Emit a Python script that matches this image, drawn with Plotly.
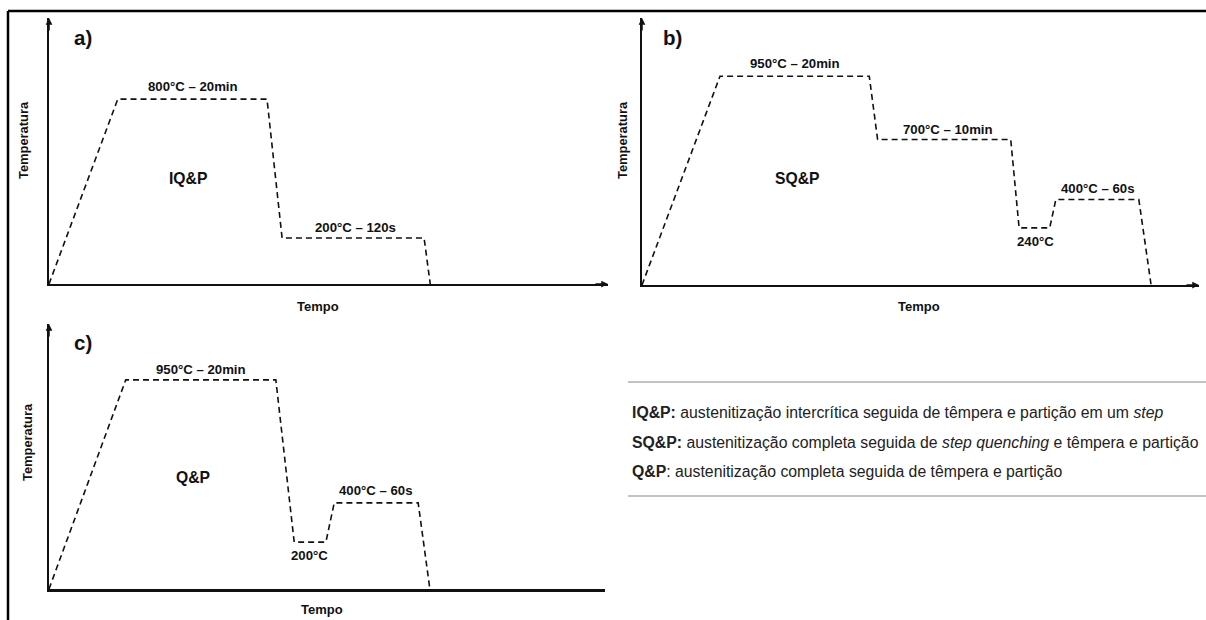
import plotly.graph_objects as go

W, H = 1206, 620

# ---------------- data (schematic time / temperature levels, 0-100 units) ----------------
# a) IQ&P
time_a = [0, 12.3, 39.0, 41.7, 67.1, 68.2]
temp_a = [0, 69.5, 69.5, 17.3, 17.3, 0]
lab_a_text = ["800°C – 20min", "200°C – 120s"]
lab_a_x = [25.8, 54.9]
lab_a_y = [74.4, 21.1]

# b) SQ&P
time_b = [0, 14.0, 40.8, 42.3, 66.2, 67.7, 73.2, 74.3, 89.2, 91.4]
temp_b = [0, 78.2, 78.2, 54.5, 54.5, 21.4, 21.4, 32.0, 32.0, 0]
lab_b_text = ["950°C – 20min", "700°C – 10min", "240°C", "400°C – 60s"]
lab_b_x = [27.5, 54.9, 70.6, 81.7]
lab_b_y = [83.1, 58.3, 16.4, 36.1]

# c) Q&P
time_c = [0, 13.8, 40.8, 44.1, 49.8, 51.3, 66.4, 68.5]
temp_c = [0, 78.9, 78.9, 17.7, 17.7, 32.5, 32.5, 0]
lab_c_text = ["950°C – 20min", "400°C – 60s", "200°C"]
lab_c_x = [27.3, 58.8, 46.9]
lab_c_y = [83.0, 37.0, 12.6]

names = ["IQ&P", "SQ&P", "Q&P"]
name_x = [24.9, 27.8, 25.9]
name_y = [39.5, 39.8, 41.9]
panel_tags = ["a)", "b)", "c)"]

legend_heads = ["IQ&P:", "SQ&P:", "Q&P"]
legend_bodies = [
    " austenitização intercrítica seguida de têmpera e partição em um <i>step</i>",
    " austenitização completa seguida de <i>step quenching</i> e têmpera e partição",
    ": austenitização completa seguida de têmpera e partição",
]

FONT = "Liberation Sans, Arial, sans-serif"
INK = "#111111"

# pixel boxes for each panel: (x_left, x_right, y_top, y_bottom)
boxes = [(49, 608, 18, 284), (642, 1199, 18, 285), (49, 605, 324, 589)]
# axis title positions (pixels)
tempo_pos = [(318, 306), (919, 306), (322, 609)]
temperatura_pos = [(23, 140), (622, 140), (27, 442)]
tag_pos = [(72, 37), (661, 37), (72, 342)]
legend_rows = [412, 442, 472]


def px(x):
    return x / W


def py(y):
    return 1 - y / H


fig = go.Figure()

series = [(time_a, temp_a), (time_b, temp_b), (time_c, temp_c)]
labels = [(lab_a_text, lab_a_x, lab_a_y), (lab_b_text, lab_b_x, lab_b_y), (lab_c_text, lab_c_x, lab_c_y)]

annotations = []
for i, ((tx, ty), (lt, lx, ly), box) in enumerate(zip(series, labels, boxes)):
    n = "" if i == 0 else str(i + 1)
    xa, ya = "x" + n, "y" + n
    fig.add_trace(go.Scatter(x=tx, y=ty, mode="lines", xaxis=xa, yaxis=ya,
                             line=dict(color=INK, width=1.6, dash="6px,4px"),
                             cliponaxis=False, showlegend=False, hoverinfo="skip"))
    x0, x1, y0, y1 = box
    xl = dict(domain=[px(x0), px(x1)], range=[0, 100], showgrid=False, zeroline=False,
              showticklabels=False, ticks="", showline=True, linecolor=INK,
              linewidth=3 if i == 2 else 2, anchor=ya, fixedrange=True)
    yl = dict(domain=[py(y1), py(y0)], range=[0, 100], showgrid=False, zeroline=False,
              showticklabels=False, ticks="", showline=True, linecolor=INK,
              linewidth=2, anchor=xa, fixedrange=True)
    fig.update_layout(**{"xaxis" + n: xl, "yaxis" + n: yl})

    # curve labels
    for t, x, y in zip(lt, lx, ly):
        annotations.append(dict(x=x, y=y, xref=xa, yref=ya, text="<b>" + t + "</b>",
                                xanchor="center", yanchor="middle",
                                showarrow=False, font=dict(family=FONT, size=13.2, color=INK)))
    annotations.append(dict(x=name_x[i], y=name_y[i], xref=xa, yref=ya,
                            text="<b>" + names[i] + "</b>", showarrow=False,
                            xanchor="center", yanchor="middle",
                            font=dict(family=FONT, size=15.7, color=INK)))
    # arrows
    annotations.append(dict(x=0, y=100, xref=xa, yref=ya, ax=0, ay=14, text="",
                            showarrow=True, arrowhead=2, arrowsize=0.9, arrowwidth=1.5,
                            arrowcolor=INK, standoff=0))
    if i < 2:
        annotations.append(dict(x=100, y=0, xref=xa, yref=ya, ax=-14, ay=0, text="",
                                showarrow=True, arrowhead=2, arrowsize=0.9, arrowwidth=1.5,
                                arrowcolor=INK, standoff=0))
    # axis titles
    tx0, ty0 = tempo_pos[i]
    annotations.append(dict(x=px(tx0), y=py(ty0), xref="paper", yref="paper",
                            xanchor="center", yanchor="middle",
                            text="<b>Tempo</b>", showarrow=False,
                            font=dict(family=FONT, size=13, color=INK)))
    tx1, ty1 = temperatura_pos[i]
    annotations.append(dict(x=px(tx1), y=py(ty1), xref="paper", yref="paper",
                            xanchor="center", yanchor="middle",
                            text="<b>Temperatura</b>", showarrow=False, textangle=-90,
                            font=dict(family=FONT, size=12.9, color=INK)))
    # panel tag
    tx2, ty2 = tag_pos[i]
    annotations.append(dict(x=px(tx2), y=py(ty2), xref="paper", yref="paper",
                            xanchor="left", yanchor="middle",
                            text="<b>" + panel_tags[i] + "</b>", showarrow=False,
                            font=dict(family=FONT, size=20.5, color=INK)))

# legend text block
for k, (h, b) in enumerate(zip(legend_heads, legend_bodies)):
    annotations.append(dict(x=px(630), y=py(legend_rows[k]), xref="paper", yref="paper",
                            xanchor="left", yanchor="middle",
                            text="<b>" + h + "</b>" + b, showarrow=False,
                            font=dict(family=FONT, size=15.8, color="#222222")))

shapes = [
    # outer frame (top and left edges)
    dict(type="line", xref="paper", yref="paper", x0=px(8), x1=1, y0=py(11), y1=py(11),
         line=dict(color="black", width=2.5)),
    dict(type="line", xref="paper", yref="paper", x0=px(8), x1=px(8), y0=py(11), y1=0,
         line=dict(color="black", width=2.5)),
    # legend rules
    dict(type="line", xref="paper", yref="paper", x0=px(628), x1=1, y0=py(382), y1=py(382),
         line=dict(color="#888888", width=1.2)),
    dict(type="line", xref="paper", yref="paper", x0=px(628), x1=1, y0=py(496), y1=py(496),
         line=dict(color="#888888", width=1.2)),
]

fig.update_layout(width=W, height=H, margin=dict(l=0, r=0, t=0, b=0),
                  paper_bgcolor="white", plot_bgcolor="rgba(0,0,0,0)",
                  annotations=annotations, shapes=shapes, showlegend=False,
                  font=dict(family=FONT, color=INK))

fig.write_html("out.html")
